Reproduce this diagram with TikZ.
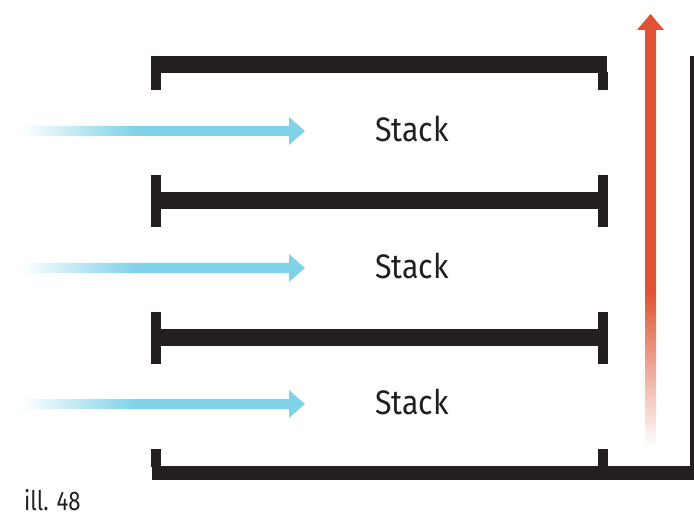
\documentclass[tikz,border=0pt]{standalone}
\usepackage{fontspec}
\setmainfont{Fira Sans}
\definecolor{ink}{HTML}{231F20}
\definecolor{flow}{HTML}{7FD2E8}
\definecolor{heat}{HTML}{E05233}
\pgfdeclarehorizontalshading{flowfade}{100bp}{color(0bp)=(white); color(25bp)=(white); color(45.2bp)=(flow); color(100bp)=(flow)}
\pgfdeclareverticalshading{heatfade}{100bp}{color(0bp)=(white); color(25bp)=(white); color(43bp)=(heat); color(100bp)=(heat)}
\tikzset{
  bar/.style={fill=ink,draw=none},
  lbl/.style={font=\fontsize{34}{38}\selectfont,text=ink,inner sep=0pt,xscale=.89},
  illcap/.style={font=\fontsize{27}{30}\selectfont,text=ink,inner sep=0pt,anchor=base west,xscale=.82},
}
\newcommand{\blueflow}[1]{%
  \shade[shading=flowfade,draw=none] (20,#1-5) -- (289,#1-5) -- (289,#1-14) -- (305,#1) -- (289,#1+14) -- (289,#1+5) -- (20,#1+5) -- cycle;
}
\begin{document}
\begin{tikzpicture}[x=1pt,y=-1pt]
\useasboundingbox (0,0) rectangle (694,513);
% top shelf
\fill[bar] (151,56) rectangle (607,73);
\fill[bar] (151,56) rectangle (161,90);
\fill[bar] (598,72) rectangle (608,90);
% middle shelves
\foreach \y in {175,312}{
  \fill[bar] (151,\y+17) rectangle (607,\y+34);
  \fill[bar] (151,\y) rectangle (161,\y+52);
  \fill[bar] (598,\y) rectangle (608,\y+52);
}
% bottom shelf and chimney wall
\fill[bar] (152,466) rectangle (694,480);
\fill[bar] (151,449) rectangle (161,467);
\fill[bar] (598,449) rectangle (608,467);
\fill[bar] (690,56) rectangle (694,480);
% blue arrows
\blueflow{131}
\blueflow{268}
\blueflow{404}
% red arrow
\shade[shading=heatfade,draw=none] (645,447) -- (645,30) -- (637,30) -- (650.5,14) -- (664,30) -- (656,30) -- (656,447) -- cycle;
% labels
\node[lbl] (s1) at (412,129) {Stack};
\node[lbl] (s2) at (412,266) {Stack};
\node[lbl] (s3) at (412,402) {Stack};
\node[illcap] (ill) at (24,510.5) {ill. 48};
\end{tikzpicture}
\end{document}
